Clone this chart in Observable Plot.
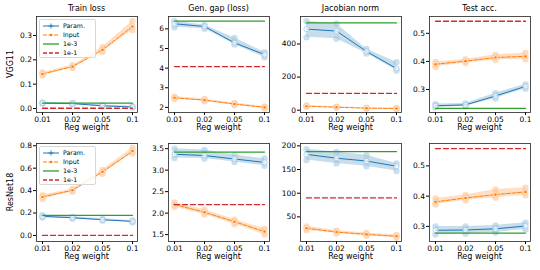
<!DOCTYPE html>
<html><head><meta charset="utf-8">
<script src="https://cdn.jsdelivr.net/npm/d3@7"></script>
<script src="https://cdn.jsdelivr.net/npm/@observablehq/plot@0.6"></script>
<style>
body{margin:0;background:#fff;font-family:"DejaVu Sans",sans-serif;}
#wrap{position:relative;width:540px;height:270px;overflow:hidden;}
.abs{position:absolute;}
.title{font-size:8px;text-align:center;color:#000;white-space:nowrap;}
.lbl{font-size:8px;text-align:center;color:#000;white-space:nowrap;}
.rowlbl{font-size:8px;color:#000;white-space:nowrap;transform:translate(-50%,-50%) rotate(-90deg);}
.legend{border:1px solid #d8d8d8;border-radius:2px;background:rgba(255,255,255,0.85);font-size:6.3px;color:#000;}
</style></head>
<body><div id="wrap"></div>
<script>
const regWeights = ["0.01", "0.02", "0.05", "0.1"];
const titles = ["Train loss", "Gen. gap (loss)", "Jacobian norm", "Test acc."];
const models = ["VGG11", "ResNet18"];
const seriesNames = ["Param.", "Input", "1e-3", "1e-1"];

// VGG11 row
const vggTrainParam = [0.022, 0.020, 0.011, 0.006];
const vggTrainParamLo = [0.019, 0.017, 0.008, 0.003];
const vggTrainParamHi = [0.025, 0.023, 0.014, 0.009];
const vggTrainInput = [0.142, 0.172, 0.241, 0.337];
const vggTrainInputLo = [0.136, 0.166, 0.232, 0.322];
const vggTrainInputHi = [0.148, 0.178, 0.252, 0.360];
const vggTrainBase = [0.022, 0.001];

const vggGapParam = [6.26, 6.12, 5.29, 4.69];
const vggGapParamLo = [6.08, 6.00, 5.20, 4.55];
const vggGapParamHi = [6.39, 6.20, 5.54, 4.81];
const vggGapInput = [2.49, 2.37, 2.17, 2.00];
const vggGapInputLo = [2.43, 2.31, 2.11, 1.95];
const vggGapInputHi = [2.55, 2.43, 2.23, 2.05];
const vggGapBase = [6.39, 4.08];

const vggJacParam = [490, 478, 355, 252];
const vggJacParamLo = [440, 432, 342, 240];
const vggJacParamHi = [538, 522, 370, 290];
const vggJacInput = [24, 18, 12, 10];
const vggJacInputLo = [20, 15, 9, 7];
const vggJacInputHi = [28, 21, 15, 13];
const vggJacBase = [527, 101];

const vggAccParam = [0.242, 0.245, 0.277, 0.311];
const vggAccParamLo = [0.236, 0.240, 0.268, 0.303];
const vggAccParamHi = [0.248, 0.250, 0.287, 0.318];
const vggAccInput = [0.390, 0.401, 0.414, 0.418];
const vggAccInputLo = [0.380, 0.394, 0.405, 0.408];
const vggAccInputHi = [0.398, 0.408, 0.424, 0.430];
const vggAccBase = [0.233, 0.543];

// ResNet18 row
const resTrainParam = [0.170, 0.158, 0.140, 0.125];
const resTrainParamLo = [0.160, 0.150, 0.132, 0.118];
const resTrainParamHi = [0.180, 0.166, 0.148, 0.133];
const resTrainInput = [0.343, 0.403, 0.567, 0.752];
const resTrainInputLo = [0.325, 0.390, 0.550, 0.730];
const resTrainInputHi = [0.360, 0.415, 0.585, 0.780];
const resTrainBase = [0.179, 0.0];

const resGapParam = [3.37, 3.34, 3.26, 3.18];
const resGapParamLo = [3.28, 3.27, 3.19, 3.10];
const resGapParamHi = [3.50, 3.47, 3.35, 3.27];
const resGapInput = [2.20, 2.02, 1.80, 1.57];
const resGapInputLo = [2.14, 1.97, 1.74, 1.50];
const resGapInputHi = [2.25, 2.08, 1.85, 1.64];
const resGapBase = [3.42, 2.20];

const resJacParam = [182, 174, 168, 157];
const resJacParamLo = [170, 163, 157, 147];
const resJacParamHi = [193, 187, 180, 163];
const resJacInput = [26, 18, 13, 9];
const resJacInputLo = [22, 15, 10, 6];
const resJacInputHi = [30, 21, 16, 12];
const resJacBase = [188, 90];

const resAccParam = [0.287, 0.288, 0.292, 0.301];
const resAccParamLo = [0.273, 0.276, 0.280, 0.290];
const resAccParamHi = [0.300, 0.300, 0.303, 0.312];
const resAccInput = [0.381, 0.394, 0.405, 0.414];
const resAccInputLo = [0.372, 0.386, 0.395, 0.403];
const resAccInputHi = [0.392, 0.404, 0.422, 0.428];
const resAccBase = [0.278, 0.557];

// y axis ticks per panel
const yTicksVgg = [[0, 0.1, 0.2, 0.3], [2, 3, 4, 5, 6], [0, 200, 400], [0.3, 0.4, 0.5]];
const yTicksRes = [[0, 0.2, 0.4, 0.6, 0.8], [1.5, 2.0, 2.5, 3.0, 3.5], [50, 100, 150, 200], [0.3, 0.4, 0.5]];

const C = {blue: "#1f77b4", orange: "#ff7f0e", green: "#2ca02c", red: "#d62728"};

const panels = [
  [
    {p:[vggTrainParam,vggTrainParamLo,vggTrainParamHi], i:[vggTrainInput,vggTrainInputLo,vggTrainInputHi], b:vggTrainBase, dom:[-0.0165,0.378], ticks:yTicksVgg[0], fmt:".1f"},
    {p:[vggGapParam,vggGapParamLo,vggGapParamHi], i:[vggGapInput,vggGapInputLo,vggGapInputHi], b:vggGapBase, dom:[1.74,6.63], ticks:yTicksVgg[1], fmt:"d"},
    {p:[vggJacParam,vggJacParamLo,vggJacParamHi], i:[vggJacInput,vggJacInputLo,vggJacInputHi], b:vggJacBase, dom:[-14,566], ticks:yTicksVgg[2], fmt:"d"},
    {p:[vggAccParam,vggAccParamLo,vggAccParamHi], i:[vggAccInput,vggAccInputLo,vggAccInputHi], b:vggAccBase, dom:[0.218,0.56], ticks:yTicksVgg[3], fmt:".1f"}
  ],
  [
    {p:[resTrainParam,resTrainParamLo,resTrainParamHi], i:[resTrainInput,resTrainInputLo,resTrainInputHi], b:resTrainBase, dom:[-0.054,0.82], ticks:yTicksRes[0], fmt:".1f"},
    {p:[resGapParam,resGapParamLo,resGapParamHi], i:[resGapInput,resGapInputLo,resGapInputHi], b:resGapBase, dom:[1.34,3.62], ticks:yTicksRes[1], fmt:".1f"},
    {p:[resJacParam,resJacParamLo,resJacParamHi], i:[resJacInput,resJacInputLo,resJacInputHi], b:resJacBase, dom:[-2,205], ticks:yTicksRes[2], fmt:"d"},
    {p:[resAccParam,resAccParamLo,resAccParamHi], i:[resAccInput,resAccInputLo,resAccInputHi], b:resAccBase, dom:[0.25,0.574], ticks:yTicksRes[3], fmt:".1f"}
  ]
];

const frameX = [36, 168, 300, 429];
const frameW = 101;
const frameY = [16, 143];
const frameH = [96, 98];
const mL = 34, mR = 4, mT = 6, mB = 14;

const wrap = document.getElementById("wrap");

function seriesMarks(s, color, light, dash, isParam) {
  const [mean, lo, hi] = s;
  const rows = regWeights.map((x, k) => ({x, y: mean[k], lo: lo[k], hi: hi[k]}));
  const pts = rows.flatMap(d => [{x: d.x, y: d.lo}, {x: d.x, y: d.hi}]);
  const m = [
    Plot.areaY(rows, {x: "x", y1: "lo", y2: "hi", fill: color, fillOpacity: 0.25}),
    Plot.dot(pts, {x: "x", y: "y", r: 3.2, fill: light, fillOpacity: 0.55, stroke: "none"}),
    Plot.line(rows, {x: "x", y: "y", stroke: color, strokeWidth: 1, strokeDasharray: dash}),
    Plot.dot(rows, {x: "x", y: "y", r: 2.6, fill: "white", fillOpacity: 0.7, stroke: light, strokeWidth: 0.8})
  ];
  if (isParam) m.push(Plot.dot(rows, {x: "x", y: "y", symbol: "plus", r: 2.2, fill: color}));
  else m.push(Plot.dot(rows, {x: "x", y: "y", r: 1.3, fill: color}));
  return m;
}

panels.forEach((row, ri) => {
  row.forEach((pd, ci) => {
    const baseG = regWeights.map(x => ({x, y: pd.b[0]}));
    const baseR = regWeights.map(x => ({x, y: pd.b[1]}));
    const chart = Plot.plot({
      width: frameW + mL + mR,
      height: frameH[ri] + mT + mB,
      marginLeft: mL, marginRight: mR, marginTop: mT, marginBottom: mB,
      style: {fontFamily: "DejaVu Sans, sans-serif", fontSize: "7.5px", color: "#000", background: "transparent", overflow: "visible"},
      x: {type: "point", domain: regWeights, padding: 0.15},
      y: {domain: pd.dom},
      marks: [
        ...seriesMarks(pd.p, C.blue, "#9ec5e3", null, true),
        ...seriesMarks(pd.i, C.orange, "#ffc08a", "4,1.5", false),
        Plot.line(baseG, {x: "x", y: "y", stroke: C.green, strokeWidth: 1.3}),
        Plot.line(baseR, {x: "x", y: "y", stroke: C.red, strokeWidth: 1.3, strokeDasharray: "5,3"}),
        Plot.axisX({tickSize: 3, tickPadding: 1.5, label: null, fontSize: 7.5}),
        Plot.axisY({ticks: pd.ticks, tickFormat: d3.format(pd.fmt), tickSize: 3, tickPadding: 1.5, label: null, fontSize: 7.5}),
        Plot.frame({stroke: "#222", strokeWidth: 0.8})
      ]
    });
    chart.classList.add("abs");
    chart.style.left = (frameX[ci] - mL) + "px";
    chart.style.top = (frameY[ri] - mT) + "px";
    wrap.appendChild(chart);

    const xl = document.createElement("div");
    xl.className = "abs lbl";
    xl.textContent = "Reg weight";
    xl.style.left = frameX[ci] + "px"; xl.style.width = frameW + "px";
    xl.style.top = (frameY[ri] + frameH[ri] + 11) + "px";
    wrap.appendChild(xl);

    if (ri === 0) {
      const t = document.createElement("div");
      t.className = "abs title";
      t.textContent = titles[ci];
      t.style.left = frameX[ci] + "px"; t.style.width = frameW + "px";
      t.style.top = "4px";
      wrap.appendChild(t);
    }
  });
  const rl = document.createElement("div");
  rl.className = "abs rowlbl";
  rl.textContent = models[ri];
  rl.style.left = "10px";
  rl.style.top = (frameY[ri] + frameH[ri] / 2) + "px";
  wrap.appendChild(rl);

  // legend
  const lg = document.createElement("div");
  lg.className = "abs legend";
  lg.style.left = "39px";
  lg.style.top = (frameY[ri] + (ri === 0 ? 3 : 3)) + "px";
  lg.style.width = "55px"; lg.style.height = "37px";
  const styles = [
    {c: C.blue, dash: "", mk: "plus"},
    {c: C.orange, dash: "4,1.5", mk: "dot"},
    {c: C.green, dash: "", mk: null},
    {c: C.red, dash: "4,2", mk: null}
  ];
  seriesNames.forEach((n, k) => {
    const s = styles[k];
    const e = document.createElement("div");
    e.className = "abs";
    e.style.left = "3px"; e.style.top = (2 + k * 9) + "px";
    e.style.height = "8px"; e.style.lineHeight = "8px"; e.style.whiteSpace = "nowrap";
    let mk = "";
    if (s.mk === "plus") mk = `<path d="M8,1.5V6.5M5.5,4H10.5" stroke="${s.c}" stroke-width="0.9"/>`;
    if (s.mk === "dot") mk = `<circle cx="8" cy="4" r="1.3" fill="${s.c}"/>`;
    e.innerHTML = `<svg width="16" height="8" style="vertical-align:top"><line x1="0" y1="4" x2="16" y2="4" stroke="${s.c}" stroke-width="${k >= 2 ? 1.3 : 1}" ${s.dash ? `stroke-dasharray="${s.dash}"` : ""}/>${mk}</svg><span style="margin-left:4px">${n}</span>`;
    lg.appendChild(e);
  });
  wrap.appendChild(lg);
});
</script></body></html>
